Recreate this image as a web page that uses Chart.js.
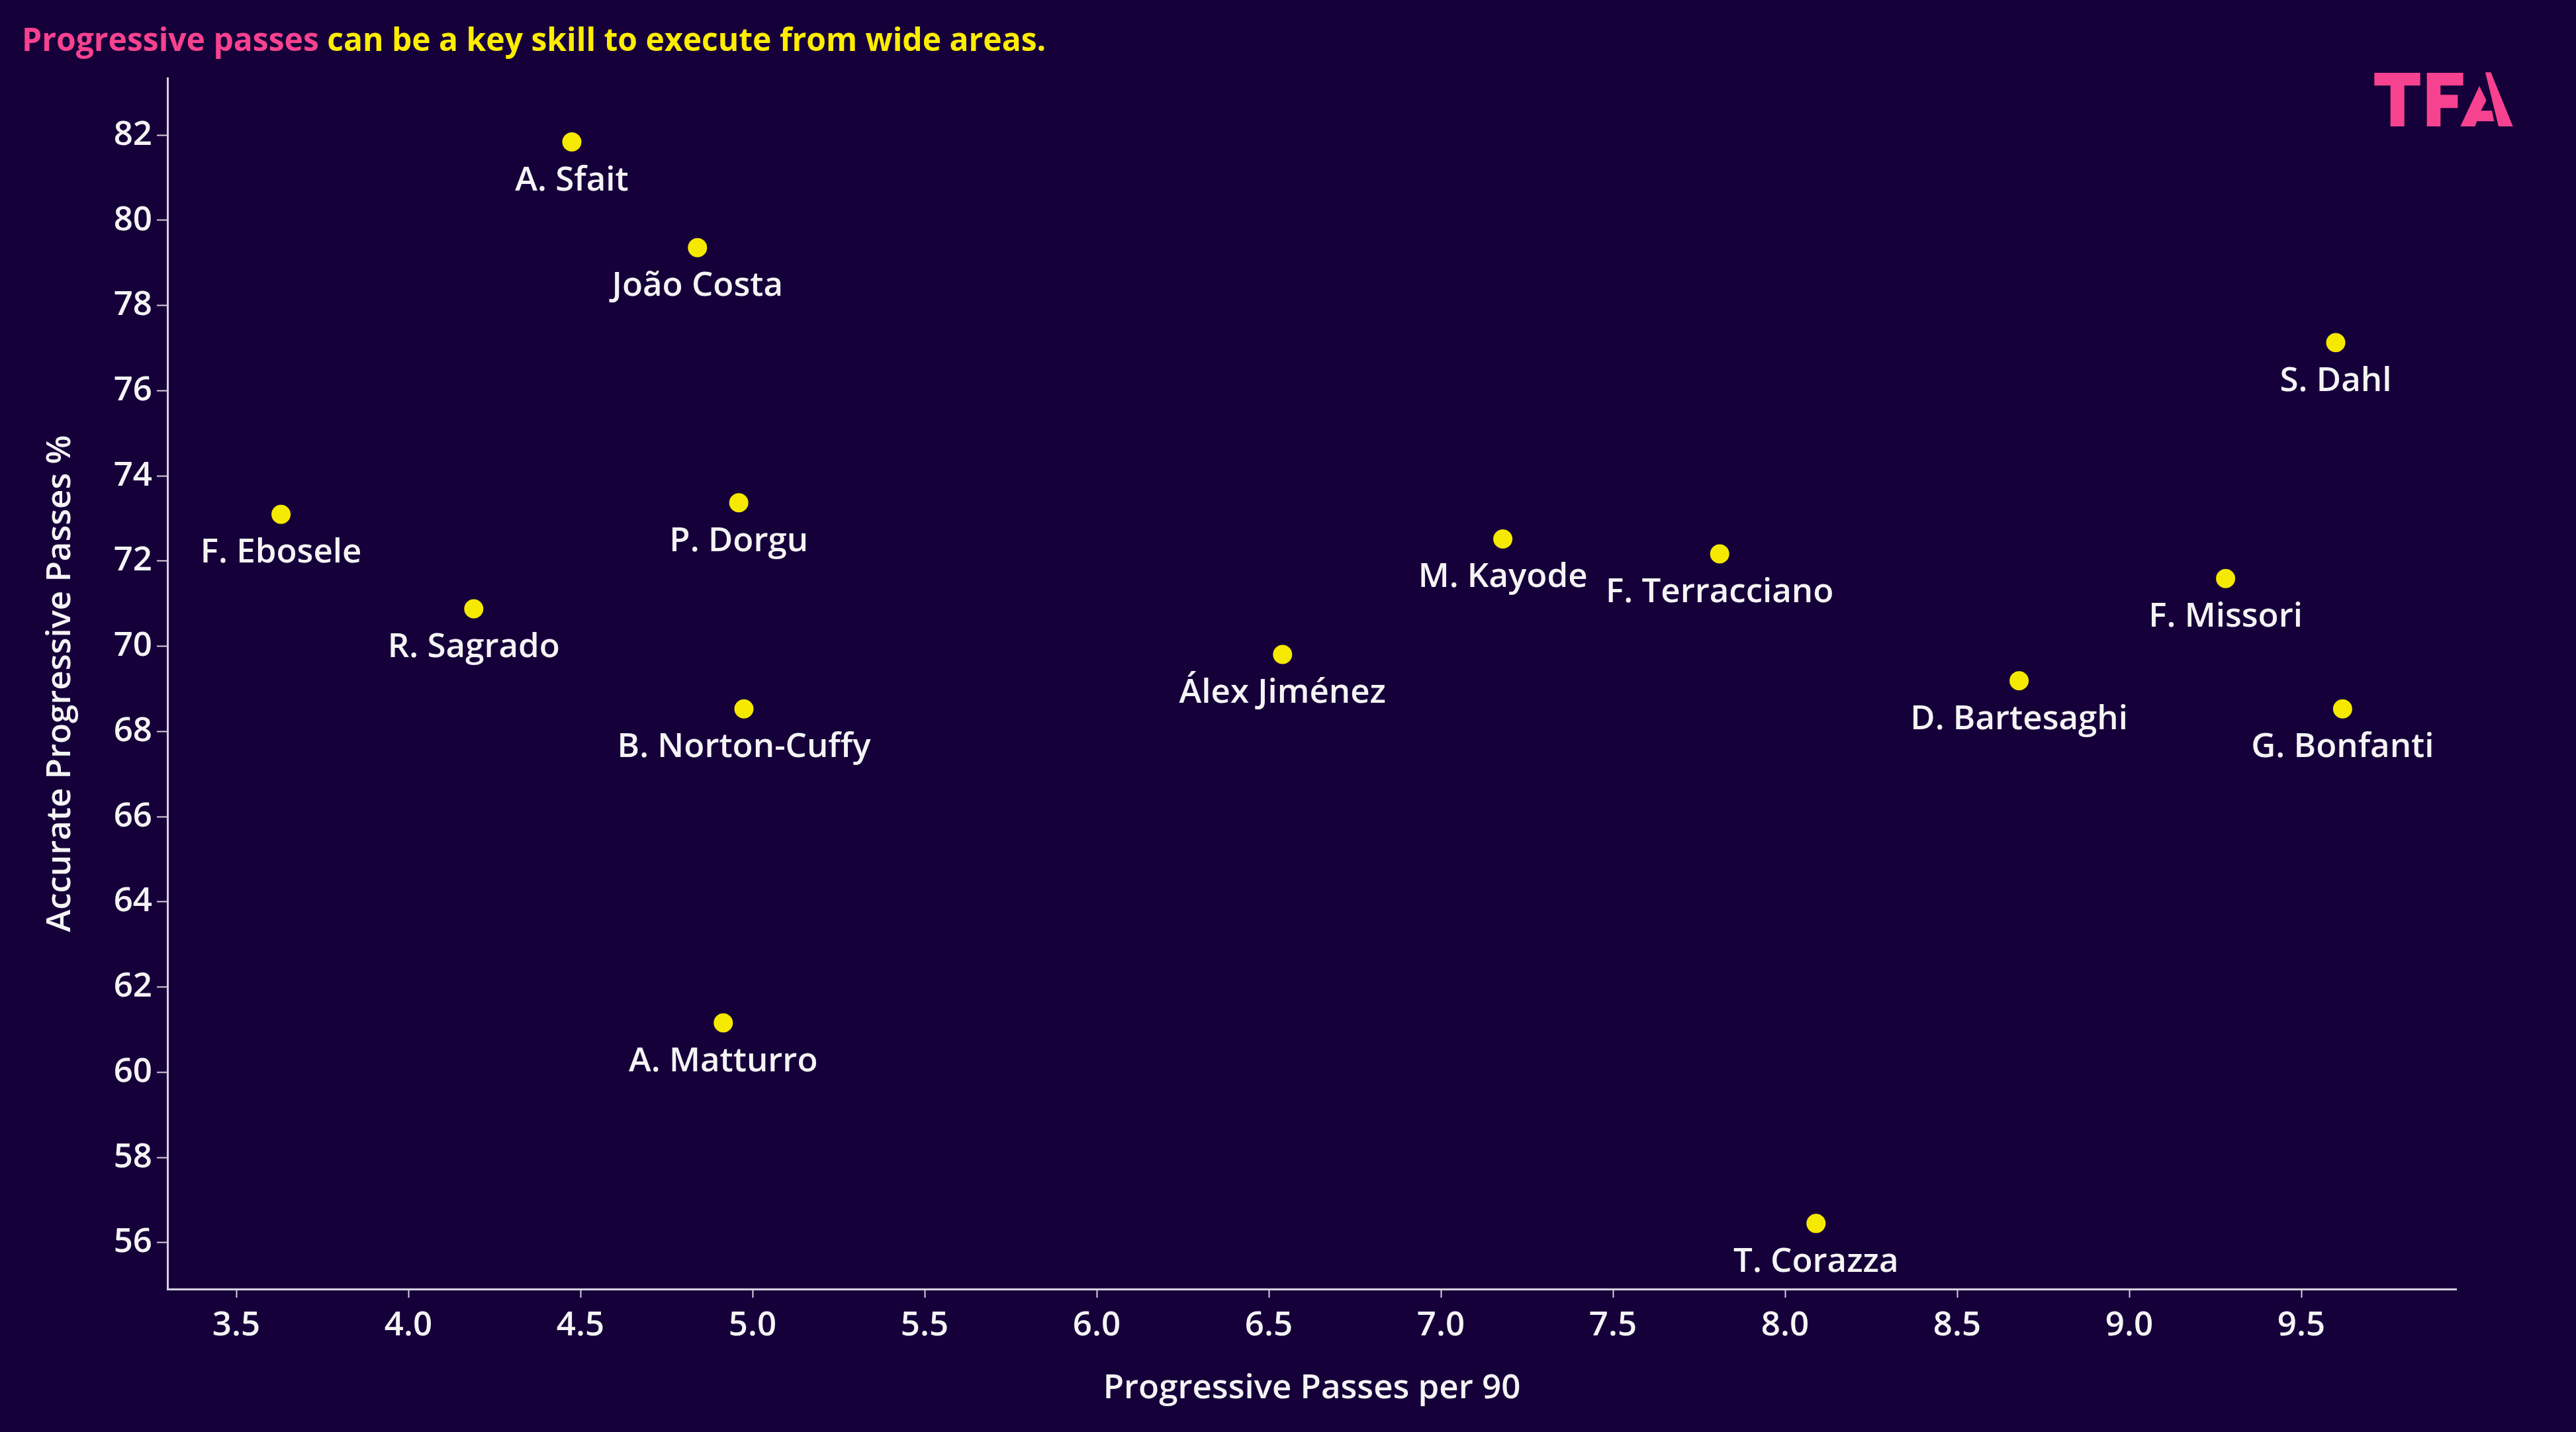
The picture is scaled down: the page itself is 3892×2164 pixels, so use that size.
<!DOCTYPE html>
<html>
<head>
<meta charset="utf-8">
<script src="https://cdn.jsdelivr.net/npm/chart.js@4.4.1/dist/chart.umd.min.js"></script>
<style>
  html, body { margin: 0; padding: 0; background: #16003a; }
  canvas { display: block; }
</style>
</head>
<body>
<canvas id="scatter" width="3892" height="2164"></canvas>
<script>
(function () {
	'use strict';

	// players and their values
	const players = ['A. Sfait', 'João Costa', 'S. Dahl', 'F. Ebosele', 'P. Dorgu', 'M. Kayode',
		'F. Terracciano', 'F. Missori', 'R. Sagrado', 'Álex Jiménez', 'D. Bartesaghi',
		'B. Norton-Cuffy', 'G. Bonfanti', 'A. Matturro', 'T. Corazza'];
	const progPassesPer90 = [4.475, 4.84, 9.60, 3.63, 4.96, 7.18, 7.81, 9.28, 4.19, 6.54, 8.68, 4.975, 9.62, 4.915, 8.09];
	const accuratePct = [81.84, 79.36, 77.13, 73.10, 73.37, 72.52, 72.17, 71.59, 70.88, 69.81, 69.19, 68.53, 68.53, 61.16, 56.45];

	const xTickValues = [3.5, 4.0, 4.5, 5.0, 5.5, 6.0, 6.5, 7.0, 7.5, 8.0, 8.5, 9.0, 9.5];
	const yTickValues = [56, 58, 60, 62, 64, 66, 68, 70, 72, 74, 76, 78, 80, 82];

	const BG = '#16003a';
	const PINK = '#f7428f';
	const YELLOW = '#ffed00';
	const DOT = '#f6e900';
	const TEXT = '#f4f4f4';
	const AXIS = '#d6d2de';
	const FONT = '"Open Sans", "DejaVu Sans", sans-serif';

	const points = progPassesPer90.map((x, i) => ({ x: x, y: accuratePct[i] }));

	const background = {
		id: 'background',
		beforeDraw(chart) {
			const c = chart.ctx;
			c.save();
			c.fillStyle = BG;
			c.fillRect(0, 0, chart.width, chart.height);
			c.restore();
		}
	};

	// names under the dots
	const pointNames = {
		id: 'pointNames',
		afterDatasetsDraw(chart) {
			const c = chart.ctx;
			const meta = chart.getDatasetMeta(0);
			c.save();
			c.font = '600 51px ' + FONT;
			c.fillStyle = TEXT;
			c.textAlign = 'center';
			c.textBaseline = 'alphabetic';
			meta.data.forEach((el, i) => {
				c.fillText(players[i], el.x, el.y + 73);
			});
			c.restore();
		}
	};

	// heading, axis titles and the TFA mark
	const decorations = {
		id: 'decorations',
		afterDraw(chart) {
			const c = chart.ctx;
			const area = chart.chartArea;
			c.save();

			c.font = '700 48px ' + FONT;
			c.textBaseline = 'alphabetic';
			c.textAlign = 'left';
			const first = 'Progressive passes';
			c.fillStyle = PINK;
			c.fillText(first, 33, 77);
			const w = c.measureText(first + ' ').width;
			c.fillStyle = YELLOW;
			c.fillText('can be a key skill to execute from wide areas.', 33 + w, 77);

			c.font = '600 51px ' + FONT;
			c.fillStyle = TEXT;
			c.textAlign = 'center';
			c.fillText('Progressive Passes per 90', (area.left + area.right) / 2, 2113);

			c.translate(106, (area.top + area.bottom) / 2);
			c.rotate(-Math.PI / 2);
			c.fillText('Accurate Progressive Passes %', 0, 0);
			c.setTransform(1, 0, 0, 1, 0, 0);

			// logo
			const ox = 3500, oy = 80, k = 1 / 3;
			const poly = (pts) => {
				c.beginPath();
				pts.forEach((p, i) => {
					const px = ox + p[0] * k, py = oy + p[1] * k;
					if (i === 0) c.moveTo(px, py); else c.lineTo(px, py);
				});
				c.closePath();
				c.fill();
			};
			c.fillStyle = PINK;
			poly([[262, 90], [470, 90], [470, 148], [398, 148], [398, 333], [335, 333], [335, 148], [262, 148]]);
			poly([[500, 90], [665, 90], [665, 148], [562, 148], [562, 190], [640, 190], [640, 250], [562, 250], [562, 333], [500, 333]]);
			poly([[765, 88], [790, 88], [890, 333], [825, 333]]);
			poly([[738, 150], [770, 215], [745, 262], [795, 262], [805, 310], [727, 310], [718, 333], [652, 333]]);
			c.restore();
		}
	};

	const tickFont = { family: FONT, size: 51, weight: '600' };

	new Chart(document.getElementById('scatter').getContext('2d'), {
		type: 'scatter',
		data: {
			datasets: [{
				label: 'Players',
				data: points,
				backgroundColor: DOT,
				borderWidth: 0,
				pointRadius: 14.5,
				pointHoverRadius: 14.5
			}]
		},
		options: {
			responsive: false,
			devicePixelRatio: 1,
			animation: false,
			events: [],
			layout: {
				padding: { left: 0, top: 118, right: 181, bottom: 0 }
			},
			plugins: {
				legend: { display: false },
				tooltip: { enabled: false }
			},
			scales: {
				x: {
					type: 'linear',
					min: 3.3,
					max: 9.95,
					afterFit: (s) => { s.height = 216; },
					afterBuildTicks: (s) => { s.ticks = xTickValues.map(v => ({ value: v })); },
					border: { color: AXIS, width: 3 },
					grid: { drawOnChartArea: false, color: AXIS, tickColor: AXIS, tickWidth: 2, tickLength: 13 },
					ticks: {
						color: TEXT,
						font: tickFont,
						padding: 12,
						maxRotation: 0,
						autoSkip: false,
						callback: (v) => Number(v).toFixed(1)
					}
				},
				y: {
					type: 'linear',
					min: 54.91,
					max: 83.34,
					afterFit: (s) => { s.width = 253; },
					afterBuildTicks: (s) => { s.ticks = yTickValues.map(v => ({ value: v })); },
					border: { color: AXIS, width: 3 },
					grid: { drawOnChartArea: false, color: AXIS, tickColor: AXIS, tickWidth: 2, tickLength: 16 },
					ticks: {
						color: TEXT,
						font: tickFont,
						padding: 7,
						autoSkip: false,
						callback: (v) => String(v)
					}
				}
			}
		},
		plugins: [background, pointNames, decorations]
	});
})();
</script>
</body>
</html>
